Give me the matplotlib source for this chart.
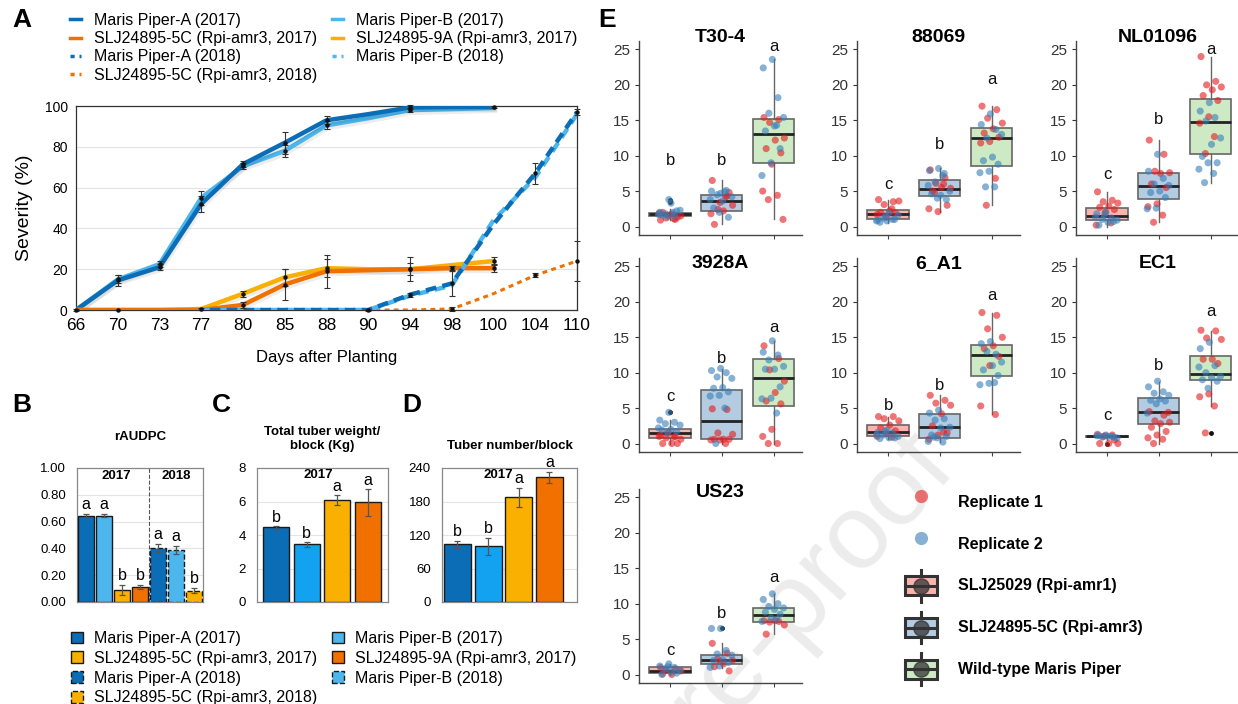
import numpy as np
import matplotlib.pyplot as plt
import matplotlib.patheffects as pe
from matplotlib.patches import Patch, Rectangle
from matplotlib.lines import Line2D
from matplotlib.legend_handler import HandlerBase

plt.rcParams['font.family'] = ['Liberation Sans', 'DejaVu Sans']

W, H = 1238, 704

DARK_BLUE = '#0a6db5'
LIGHT_BLUE = '#4db6ec'
BRIGHT_BLUE = '#12a2f0'
ORANGE = '#f07100'
YELLOW = '#f9b000'

# ---------------- panel A: disease progress ----------------
days = ['66', '70', '73', '77', '80', '85', '88', '90', '94', '98', '100', '104', '110']
# 2017 scored from day 66 to day 100
mpa_2017 = [0, 14.5, 21, 52, 71.5, 82, 93, 96, 99.3, 99.5, 99.5]
mpa_2017_err = [0.5, 2.5, 1.5, 4.0, 1.5, 5.5, 2.0, 0, 1.0, 0, 0.3]
mpb_2017 = [0, 15, 22.5, 55, 70.5, 78, 90.5, 94, 98, 98.5, 99]
mpb_2017_err = [0, 2.0, 1.5, 3.5, 1.5, 3.0, 2.0, 0, 1.0, 0, 0]
c5_2017 = [0, 0, 0, 0, 2.5, 12.5, 19, 19.5, 20, 20.5, 20.5]
c5_2017_err = [0, 0.2, 0, 0, 1.5, 7.5, 8.0, 0, 6.0, 1.0, 2.0]
a9_2017 = [0, 0, 0, 0.5, 8, 16, 20.5, 20, 20, 22, 24]
a9_2017_err = [0, 0, 0, 0.3, 1.5, 4.0, 4.5, 0, 3.0, 0, 2.0]
# 2018 scored from day 77 to day 110
mpa_2018 = [0, 0, 0, 0, 0, 7.5, 13, 42, 67, 97]
mpa_2018_err = [0, 0, 0, 0, 0.3, 1.0, 6.0, 0, 5.0, 1.5]
mpb_2018 = [0, 0, 0, 0, 0, 7, 12, 44, 65, 96]
c5_2018 = [0, 0, 0, 0, 0, 0, 0.5, 8, 17, 24]
c5_2018_err = [0, 0, 0, 0, 0, 0, 1.0, 0, 1.0, 10.0]

# ---------------- panels B-D: bars ----------------
raudpc = [0.645, 0.645, 0.09, 0.11, 0.40, 0.39, 0.085]
raudpc_err = [0.01, 0.012, 0.035, 0.015, 0.03, 0.03, 0.02]
raudpc_letters = ['a', 'a', 'b', 'b', 'a', 'a', 'b']
tuber_weight = [4.45, 3.45, 6.1, 5.95]
tuber_weight_err = [0.08, 0.15, 0.3, 0.8]
tuber_weight_letters = ['b', 'b', 'a', 'a']
tuber_number = [103, 100, 188, 223]
tuber_number_err = [7, 15, 17, 10]
tuber_number_letters = ['b', 'b', 'a', 'a']

# ---------------- panel E: detached leaf assays ----------------
groups_e = ['SLJ25029 (Rpi-amr1)', 'SLJ24895-5C (Rpi-amr3)', 'Wild-type Maris Piper']
isolates = ['T30-4', '88069', 'NL01096', '3928A', '6_A1', 'EC1', 'US23']

# per isolate: replicate 1 points, replicate 2 points, box stats
# (lower whisker, q1, median, q3, upper whisker, outliers), letters (label, height)
T30_4_rep1 = [[0.9, 1.0, 1.2, 1.5, 1.8, 2.0, 1.3, 1.6, 1.9, 1.1],
              [6.5, 4.3, 2.4, 3.0, 2.2, 0.3, 4.8, 3.4, 1.8, 4.2],
              [15.4, 15.1, 14.7, 12.5, 12.2, 11.0, 10.4, 8.8, 5.0, 4.4, 3.8, 1.0]]
T30_4_rep2 = [[3.8, 2.0, 1.5, 1.8, 2.3, 3.3, 1.6, 2.2, 1.4, 1.7, 2.0],
              [4.7, 5.0, 5.1, 4.5, 4.2, 3.6, 2.6, 1.3, 2.0, 3.8, 4.9],
              [23.6, 22.4, 18.2, 16.0, 15.4, 14.2, 13.5, 11.0, 9.0, 7.2, 14.3]]
T30_4_box = [(0.9, 1.5, 1.8, 1.95, 2.5, [3.4, 3.7]),
             (0.3, 2.2, 3.6, 4.5, 6.5, []),
             (1.0, 9.0, 13.0, 15.2, 23.6, [])]
T30_4_letters = [('b', 9.3), ('b', 9.3), ('a', 25.4)]

I88069_rep1 = [[3.8, 3.5, 3.1, 3.6, 2.2, 2.0, 1.9, 1.3, 1.7, 2.5],
               [8.0, 6.9, 6.1, 5.4, 5.5, 5.0, 3.0, 2.1, 2.5, 6.0, 4.8],
               [17.0, 16.5, 15.3, 14.6, 13.8, 13.2, 12.6, 12.0, 11.8, 6.8, 3.0]]
I88069_rep2 = [[0.8, 0.9, 1.0, 1.2, 1.6, 1.9, 0.6, 1.0, 1.5, 0.8],
               [8.2, 7.9, 7.5, 6.3, 5.0, 4.4, 4.6, 3.8, 4.0, 5.8, 7.2],
               [15.9, 14.4, 13.7, 12.5, 13.0, 9.8, 9.3, 8.8, 7.8, 7.6, 5.6, 5.6]]
I88069_box = [(0.5, 1.1, 1.8, 2.4, 3.8, []),
              (2.1, 4.3, 5.3, 6.5, 8.2, []),
              (3.0, 8.5, 12.5, 13.9, 17.0, [])]
I88069_letters = [('c', 6.0), ('b', 11.6), ('a', 20.8)]

NL01096_rep1 = [[4.9, 3.7, 3.5, 3.3, 2.9, 2.7, 2.4, 2.0, 0.2, 0.5],
                [12.2, 10.2, 7.8, 7.6, 7.5, 6.0, 5.5, 3.2, 2.8, 1.6, 0.6],
                [24.0, 20.5, 20.0, 19.7, 19.3, 18.5, 17.8, 15.5, 14.6, 12.7, 10.3]]
NL01096_rep2 = [[2.0, 1.8, 1.2, 1.0, 0.9, 0.6, 0.2, 0.7, 1.6, 1.3],
                [10.2, 7.8, 6.8, 6.0, 5.8, 5.0, 4.8, 4.1, 2.6, 2.5],
                [17.5, 16.3, 15.4, 14.9, 12.5, 11.6, 9.9, 9.0, 9.0, 8.1, 7.5, 6.2]]
NL01096_box = [(0.0, 0.9, 1.5, 2.6, 4.9, []),
               (0.6, 3.9, 5.7, 7.6, 12.2, []),
               (6.2, 10.2, 14.8, 18.0, 24.0, [])]
NL01096_letters = [('c', 7.4), ('b', 15.1), ('a', 25.0)]

I3928A_rep1 = [[1.2, 1.0, 0.8, 0.6, 0.0, 0.0, 0.0, 1.5, 1.0, 0.9],
               [4.9, 4.8, 1.5, 1.3, 0.6, 0.6, 0.6, 0.5, 0.5, 0.0],
               [13.8, 12.0, 10.4, 8.8, 7.2, 6.0, 5.6, 2.0, 1.0, 0.0, 0.0]]
I3928A_rep2 = [[4.4, 3.3, 3.0, 2.8, 2.6, 2.0, 1.9, 1.7, 1.5, 2.2],
               [10.6, 10.3, 10.0, 9.4, 9.2, 7.9, 7.8, 7.3, 6.8, 6.7, 5.0, 0.0],
               [14.5, 12.9, 12.5, 11.8, 10.9, 10.5, 10.5, 8.0, 6.4, 6.3, 4.3]]
I3928A_box = [(0.0, 0.8, 1.5, 2.1, 3.3, [4.4]),
              (0.0, 0.6, 3.2, 7.5, 10.5, []),
              (0.0, 5.3, 9.3, 11.9, 14.5, [])]
I3928A_letters = [('c', 6.6), ('b', 12.0), ('a', 16.4)]

I6_A1_rep1 = [[3.8, 3.8, 3.5, 3.2, 2.6, 2.2, 1.8, 1.4, 1.0, 0.9],
              [6.8, 6.1, 5.7, 5.4, 4.2, 2.5, 1.5, 1.2, 0.6, 1.6],
              [18.5, 18.1, 16.2, 15.0, 13.8, 13.4, 12.3, 11.0, 5.3, 4.1]]
I6_A1_rep2 = [[1.9, 1.6, 1.5, 1.2, 1.0, 0.8, 0.7, 0.8, 1.7, 1.2],
              [4.7, 4.3, 3.5, 3.3, 2.3, 2.2, 1.2, 1.0, 0.8, 0.3, 0.2, 0.9],
              [14.4, 14.1, 12.6, 13.0, 11.5, 11.0, 10.4, 9.6, 8.5, 8.3, 8.6]]
I6_A1_box = [(0.7, 1.0, 1.6, 2.6, 3.8, []),
             (0.2, 0.8, 2.3, 4.2, 6.8, []),
             (4.1, 9.6, 12.5, 13.9, 18.5, [])]
I6_A1_letters = [('b', 5.4), ('b', 8.2), ('a', 20.9)]

EC1_rep1 = [[1.3, 1.2, 1.0, 0.0, 0.0, 0.0, 0.5, 1.1],
            [4.5, 4.0, 3.2, 3.0, 2.8, 2.3, 1.7, 1.2, 0.8, 0.6, 0.0, 4.4],
            [16.0, 15.9, 14.9, 14.7, 11.9, 11.9, 11.3, 7.0, 6.6, 5.3, 1.5]]
EC1_rep2 = [[1.2, 1.1, 1.0, 0.9, 0.8, 1.0, 1.1, 0.9],
            [8.8, 8.0, 7.3, 7.1, 6.8, 6.3, 6.1, 6.0, 5.6, 4.3],
            [14.3, 13.4, 11.0, 10.0, 9.5, 9.3, 9.0, 8.8, 7.8, 10.8]]
EC1_box = [(0.5, 0.9, 1.0, 1.1, 1.3, [0.0]),
           (0.0, 2.7, 4.4, 6.4, 8.7, []),
           (5.3, 8.9, 9.8, 12.3, 15.9, [1.5])]
EC1_letters = [('c', 4.0), ('b', 11.0), ('a', 18.6)]

US23_rep1 = [[1.0, 0.8, 0.6, 0.5, 0.0, 0.1],
             [4.4, 3.0, 2.2, 2.0, 1.5, 1.1, 0.5, 1.8],
             [7.6, 7.5, 7.4, 7.0, 7.6, 5.7]]
US23_rep2 = [[1.5, 1.2, 1.0, 0.8, 0.6, 0.3, 0.0, 0.2, 1.1],
             [6.5, 6.5, 3.4, 2.9, 2.7, 2.1, 2.0, 1.7, 1.2, 1.0],
             [11.4, 10.6, 10.0, 9.6, 9.4, 9.2, 8.8, 8.5, 8.0, 7.5, 7.8]]
US23_box = [(0.0, 0.2, 0.55, 1.0, 1.5, []),
            (0.9, 1.5, 2.1, 2.8, 4.4, [6.5]),
            (5.7, 7.4, 8.4, 9.4, 11.3, [])]
US23_letters = [('c', 3.4), ('b', 8.6), ('a', 13.7)]

rep1_all = [T30_4_rep1, I88069_rep1, NL01096_rep1, I3928A_rep1, I6_A1_rep1, EC1_rep1, US23_rep1]
rep2_all = [T30_4_rep2, I88069_rep2, NL01096_rep2, I3928A_rep2, I6_A1_rep2, EC1_rep2, US23_rep2]
box_all = [T30_4_box, I88069_box, NL01096_box, I3928A_box, I6_A1_box, EC1_box, US23_box]
letters_all = [T30_4_letters, I88069_letters, NL01096_letters, I3928A_letters,
               I6_A1_letters, EC1_letters, US23_letters]


def px(left, top, right, bottom):
    return [left / W, 1 - bottom / H, (right - left) / W, (bottom - top) / H]


def jitter(n, phase):
    # deterministic spread of points across the box width
    return ((np.arange(n) * 0.618034 + phase) % 1.0) * 0.46 - 0.23


fig = plt.figure(figsize=(W / 100, H / 100), dpi=100)

# ================= A =================
axA = fig.add_axes(px(76, 106, 577, 310))
x17 = np.arange(len(mpa_2017))
x18 = np.arange(3, 3 + len(mpa_2018))
shadow = [pe.SimpleLineShadow(offset=(1, -2), alpha=0.07, shadow_color='k'), pe.Normal()]
axA.plot(x17, mpb_2017, color=LIGHT_BLUE, lw=3.2, path_effects=shadow, zorder=3)
axA.plot(x17, mpa_2017, color=DARK_BLUE, lw=3.2, path_effects=shadow, zorder=3)
axA.plot(x17, a9_2017, color=YELLOW, lw=3.2, path_effects=shadow, zorder=3)
axA.plot(x17, c5_2017, color=ORANGE, lw=3.2, path_effects=shadow, zorder=3)
axA.plot(x18, c5_2018, color=ORANGE, lw=2.2, ls=(0, (1.6, 1.4)), zorder=4)
axA.plot(x18, mpb_2018, color=LIGHT_BLUE, lw=3.2, ls=(0, (2.4, 1.4)), zorder=4)
axA.plot(x18, mpa_2018, color=DARK_BLUE, lw=3.2, ls=(1.9, (2.4, 1.4)), zorder=4)

for xs, ys, es in [(x17, mpa_2017, mpa_2017_err), (x17, mpb_2017, mpb_2017_err),
                   (x17, c5_2017, c5_2017_err), (x17, a9_2017, a9_2017_err),
                   (x18, mpa_2018, mpa_2018_err), (x18, c5_2018, c5_2018_err)]:
    keep = np.array(es) > 0
    axA.errorbar(np.array(xs)[keep], np.array(ys)[keep], yerr=np.array(es)[keep],
                 fmt='o', ms=2.2, color='#111111', ecolor='#333333', elinewidth=0.8,
                 capsize=2.5, capthick=0.8, zorder=6, clip_on=False)

axA.set_xlim(0, len(days) - 1)
axA.set_ylim(0, 100)
axA.set_xticks(range(len(days)))
axA.set_xticklabels(days, fontsize=12.5)
axA.set_yticks(range(0, 101, 20))
axA.tick_params(axis='y', labelsize=10)
axA.tick_params(length=0, pad=6)
axA.yaxis.grid(True, color='#e4e4e4', lw=0.8)
axA.set_axisbelow(True)
for s in axA.spines.values():
    s.set_color('#333333')
    s.set_linewidth(0.9)
axA.set_ylabel('Severity (%)', fontsize=14, labelpad=8)
axA.set_xlabel('Days after Planting', fontsize=12, labelpad=12)

handlesA = [Line2D([], [], color=DARK_BLUE, lw=2.5),
            Line2D([], [], color=ORANGE, lw=2.5),
            Line2D([], [], color=DARK_BLUE, lw=2.5, ls=(0, (1.2, 1.4))),
            Line2D([], [], color=ORANGE, lw=2.5, ls=(0, (1.2, 1.4))),
            Line2D([], [], color=LIGHT_BLUE, lw=2.5),
            Line2D([], [], color=YELLOW, lw=2.5),
            Line2D([], [], color=LIGHT_BLUE, lw=2.5, ls=(0, (1.2, 1.4)))]
labelsA = ['Maris Piper-A (2017)', 'SLJ24895-5C (Rpi-amr3, 2017)', 'Maris Piper-A (2018)',
           'SLJ24895-5C (Rpi-amr3, 2018)', 'Maris Piper-B (2017)',
           'SLJ24895-9A (Rpi-amr3, 2017)', 'Maris Piper-B (2018)']
fig.legend(handlesA, labelsA, ncol=2, loc='upper left', bbox_to_anchor=(70 / W, 1 - 13 / H),
           frameon=False, fontsize=11.5, handlelength=0.7, handletextpad=0.8,
           columnspacing=0.9, labelspacing=0.2, borderpad=0, borderaxespad=0)

# ================= B-D =================
bar_cols_b = [DARK_BLUE, LIGHT_BLUE, YELLOW, ORANGE, DARK_BLUE, LIGHT_BLUE, YELLOW]
bar_cols_cd = [DARK_BLUE, BRIGHT_BLUE, YELLOW, ORANGE]


def bar_panel(ax, values, errs, letters, colors, ymax, yticks, fmt, title, pad_letter,
              dashed_from=None, width=0.85, title_pad=12):
    xs = np.arange(len(values))
    for i, (v, c) in enumerate(zip(values, colors)):
        ls = '--' if dashed_from is not None and i >= dashed_from else '-'
        ax.bar(i, v, width=width, color=c, edgecolor='#1a1a1a', lw=1.0, linestyle=ls, zorder=3)
    ax.errorbar(xs, values, yerr=errs, fmt='none', ecolor='#555555', elinewidth=0.9,
                capsize=2.5, capthick=0.9, zorder=4)
    for x, v, e, lab in zip(xs, values, errs, letters):
        ax.text(x, v + e + pad_letter, lab, ha='center', va='bottom', fontsize=11.5,
                zorder=5, clip_on=False)
    ax.set_ylim(0, ymax)
    ax.set_yticks(yticks)
    ax.set_yticklabels([fmt.format(t) for t in yticks], fontsize=9.5)
    ax.set_xticks([])
    ax.tick_params(length=0, pad=8)
    ax.yaxis.grid(True, color='#e4e4e4', lw=0.8)
    ax.set_axisbelow(True)
    for s in ax.spines.values():
        s.set_color('#888888')
        s.set_linewidth(0.9)
    ax.set_title(title, fontsize=9.5, fontweight='bold', pad=title_pad)


axB = fig.add_axes(px(77, 468, 203, 602))
bar_panel(axB, raudpc, raudpc_err, raudpc_letters, bar_cols_b, 1.0,
          [0, 0.2, 0.4, 0.6, 0.8, 1.0], '{:.2f}', 'rAUDPC', 0.015, dashed_from=4,
          title_pad=20)
axB.set_xlim(-0.5, 6.5)
axB.axvline(3.5, color='#555555', lw=0.8, ls='--', zorder=2)
axB.text(0.31, 0.94, '2017', transform=axB.transAxes, ha='center', va='center',
         fontsize=9.5, fontweight='bold')
axB.text(0.79, 0.94, '2018', transform=axB.transAxes, ha='center', va='center',
         fontsize=9.5, fontweight='bold')

axC = fig.add_axes(px(257, 468, 388, 602))
bar_panel(axC, tuber_weight, tuber_weight_err, tuber_weight_letters, bar_cols_cd, 8,
          [0, 2, 4, 6, 8], '{:d}', 'Total tuber weight/\nblock (Kg)', 0.06, title_pad=14)
axC.set_xlim(-0.62, 3.66)
axC.text(0.47, 0.95, '2017', transform=axC.transAxes, ha='center', va='center',
         fontsize=9.5, fontweight='bold')

axD = fig.add_axes(px(442, 468, 577, 602))
bar_panel(axD, tuber_number, tuber_number_err, tuber_number_letters, bar_cols_cd, 240,
          [0, 60, 120, 180, 240], '{:d}', 'Tuber number/block', 3, width=0.88,
          title_pad=14)
axD.set_xlim(-0.5, 3.9)
axD.text(0.42, 0.95, '2017', transform=axD.transAxes, ha='center', va='center',
         fontsize=9.5, fontweight='bold')

handlesBD = [Patch(facecolor=DARK_BLUE, edgecolor='#1a1a1a', lw=1),
             Patch(facecolor=YELLOW, edgecolor='#1a1a1a', lw=1),
             Patch(facecolor=DARK_BLUE, edgecolor='#1a1a1a', lw=1, linestyle='--'),
             Patch(facecolor=YELLOW, edgecolor='#1a1a1a', lw=1, linestyle='--'),
             Patch(facecolor=LIGHT_BLUE, edgecolor='#1a1a1a', lw=1),
             Patch(facecolor=ORANGE, edgecolor='#1a1a1a', lw=1),
             Patch(facecolor=LIGHT_BLUE, edgecolor='#1a1a1a', lw=1, linestyle='--')]
labelsBD = ['Maris Piper-A (2017)', 'SLJ24895-5C (Rpi-amr3, 2017)', 'Maris Piper-A (2018)',
            'SLJ24895-5C (Rpi-amr3, 2018)', 'Maris Piper-B (2017)',
            'SLJ24895-9A (Rpi-amr3, 2017)', 'Maris Piper-B (2018)']
fig.legend(handlesBD, labelsBD, ncol=2, loc='upper left', bbox_to_anchor=(71 / W, 1 - 631 / H),
           frameon=False, fontsize=11.5, handlelength=0.75, handleheight=0.75,
           handletextpad=0.7, columnspacing=0.9, labelspacing=0.3, borderpad=0,
           borderaxespad=0)

# ================= E =================
box_faces = ['#f8b5ae', '#b3cce2', '#cdeac5']
rep1_color = '#e41a1c'
rep2_color = '#377eb8'
col_left = [639, 857, 1076]
row_tb = [(41, 235), (258, 452), (489, 683)]
title_y = [1.02, 0.97, 0.98]

# watermark behind the boxplots
fig.text(938 / W, 1 - 452 / H, 'Journal Pre-proof', fontsize=76, color='#ececec',
         rotation=48, rotation_mode='anchor', ha='right', va='center', zorder=-1)

for k, name in enumerate(isolates):
    r, c = divmod(k, 3)
    top, bottom = row_tb[r]
    ax = fig.add_axes(px(col_left[c], top, col_left[c] + 163, bottom))
    ax.set_facecolor('none')
    stats = [dict(whislo=b[0], q1=b[1], med=b[2], q3=b[3], whishi=b[4], fliers=b[5])
             for b in box_all[k]]
    bp = ax.bxp(stats, positions=[1, 2, 3], widths=0.8, patch_artist=True, showcaps=False,
                boxprops=dict(edgecolor='#666666', linewidth=1.2),
                medianprops=dict(color='#222222', linewidth=2.0),
                whiskerprops=dict(color='#666666', linewidth=1.0),
                flierprops=dict(marker='o', markerfacecolor='#111111',
                                markeredgecolor='none', markersize=3.5))
    for patch, fc in zip(bp['boxes'], box_faces):
        patch.set_facecolor(fc)
    for g in range(3):
        v1 = rep1_all[k][g]
        v2 = rep2_all[k][g]
        ax.scatter(g + 1 + jitter(len(v1), 0.1), v1, s=26, color=rep1_color, alpha=0.6,
                   edgecolors='none', zorder=4)
        ax.scatter(g + 1 + jitter(len(v2), 0.45), v2, s=26, color=rep2_color, alpha=0.6,
                   edgecolors='none', zorder=4)
        lab, ly = letters_all[k][g]
        ax.text(g + 1, ly, lab, ha='center', va='center', fontsize=12, color='#111111')
    ax.set_xlim(0.4, 3.55)
    ax.set_ylim(-1.2, 26.2)
    ax.set_xticks([1, 2, 3])
    ax.set_xticklabels([])
    ax.set_yticks(range(0, 26, 5))
    ax.tick_params(axis='y', labelsize=11, colors='#333333', length=3, width=0.8)
    ax.tick_params(axis='x', length=3, width=0.8, colors='#444444')
    for side in ['top', 'right']:
        ax.spines[side].set_visible(False)
    for side in ['left', 'bottom']:
        ax.spines[side].set_color('#444444')
        ax.spines[side].set_linewidth(1.0)
    ax.text(0.5, title_y[r], name, transform=ax.transAxes, ha='center', va='center',
            fontsize=14, fontweight='bold')


class BoxGlyph(HandlerBase):
    def create_artists(self, legend, orig_handle, xdescent, ydescent, width, height,
                       fontsize, trans):
        x0, y0 = -xdescent, -ydescent
        cx, cy = x0 + width / 2, y0 + height / 2
        bw, bh = width * 0.95, height * 0.6
        whisker = Line2D([cx, cx], [y0, y0 + height], color='#333333', lw=2.2, transform=trans)
        box = Rectangle((cx - bw / 2, cy - bh / 2), bw, bh,
                        facecolor=orig_handle.get_facecolor(), edgecolor='#333333', lw=2.2,
                        transform=trans)
        med = Line2D([cx - bw / 2, cx + bw / 2], [cy, cy], color='#333333', lw=2.2,
                     transform=trans)
        dot = Line2D([cx], [cy], marker='o', ms=11, color='#333333', alpha=0.75,
                     ls='none', transform=trans)
        return [whisker, box, med, dot]


handlesE = [Line2D([], [], marker='o', ls='none', ms=9.5, color=rep1_color, alpha=0.6,
                   markeredgecolor='none'),
            Line2D([], [], marker='o', ls='none', ms=9.5, color=rep2_color, alpha=0.6,
                   markeredgecolor='none')] + [Patch(facecolor=fc) for fc in box_faces]
labelsE = ['Replicate 1', 'Replicate 2'] + groups_e
fig.legend(handlesE, labelsE, loc='upper left', bbox_to_anchor=(904 / W, 1 - 486 / H),
           frameon=False, prop=dict(weight='bold', size=11.5), handlelength=2.1,
           handleheight=2.7, labelspacing=0.62, handletextpad=1.3, borderpad=0,
           borderaxespad=0, handler_map={Patch: BoxGlyph()})

# panel letters
for lab, x, y in [('A', 12, 20), ('B', 12, 405), ('C', 212, 405), ('D', 402, 405),
                  ('E', 598, 20)]:
    fig.text(x / W, 1 - y / H, lab, fontsize=19, fontweight='bold', ha='left', va='center')

fig.savefig('out.png', dpi=100)
